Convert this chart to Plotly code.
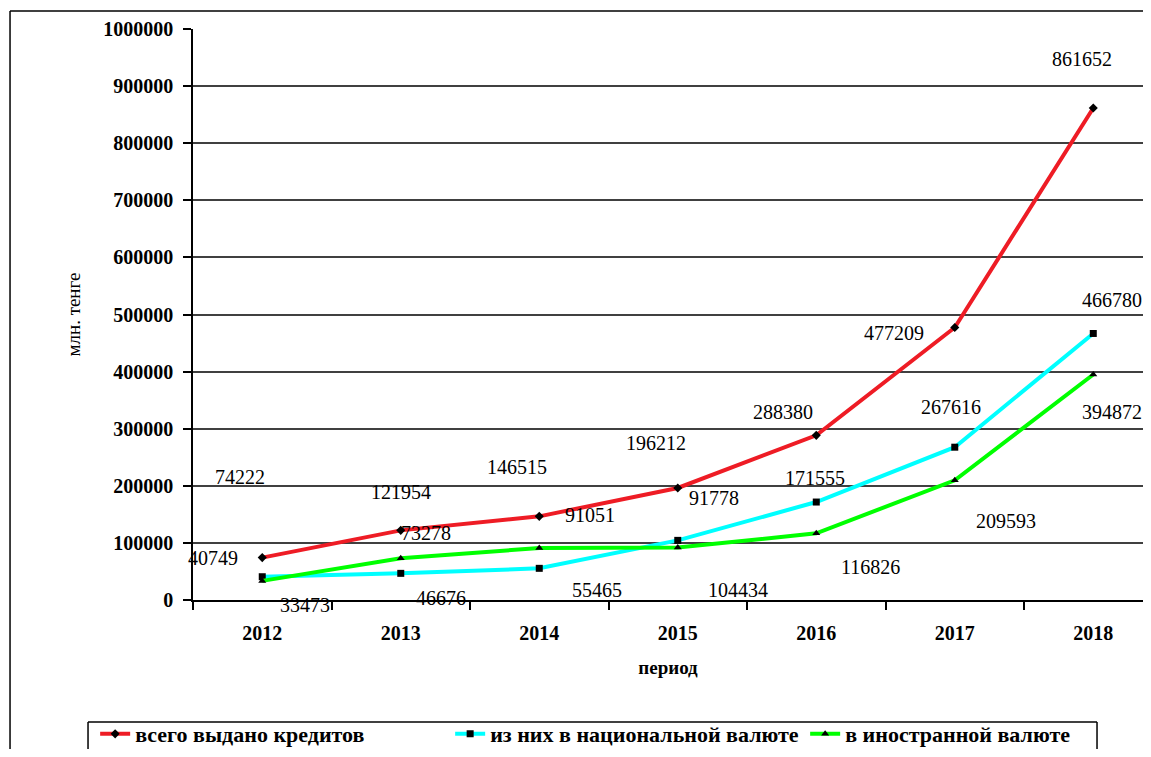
import plotly.graph_objects as go

years = ["2012", "2013", "2014", "2015", "2016", "2017", "2018"]
total = [74222, 121954, 146515, 196212, 288380, 477209, 861652]
national = [40749, 46676, 55465, 104434, 171555, 267616, 466780]
foreign = [33473, 73278, 91051, 91778, 116826, 209593, 394872]

names = ["всего выдано кредитов", "из них в национальной валюте", "в иностранной валюте"]
y_title = "млн. тенге"
x_title = "период"

# label offsets in pixels (style only)
off_total = [(-22, 81), (0, 38), (-22, 49), (-22, 45), (-33, 23), (-61, -5), (-11, 49)]
off_nat = [(-49, 19), (40, -25), (58, -22), (60, -50), (-1, 24), (-4, 40), (19, 33)]
off_for = [(43, -24), (25, 25), (51, 33), (36, 50), (54, -34), (51, -41), (19, -37)]

FONT = "Liberation Serif"

fig = go.Figure()
series = [
    (total, names[0], "#EE1C25", "diamond", off_total),
    (national, names[1], "#00FFFF", "square", off_nat),
    (foreign, names[2], "#00FF00", "triangle-up", off_for),
]
annotations = []
for vals, nm, col, sym, offs in series:
    fig.add_trace(go.Scatter(
        x=years, y=vals, name=nm, mode="lines+markers",
        line=dict(color=col, width=4),
        marker=dict(symbol=sym, size=7, color="black"),
        cliponaxis=False,
    ))
    for i, (yv, (dx, dy)) in enumerate(zip(vals, offs)):
        annotations.append(dict(
            x=i, y=yv, xref="x", yref="y", text=str(yv), showarrow=False,
            xshift=dx, yshift=dy, font=dict(family=FONT, size=20, color="black"),
        ))

frame = dict(color="black", width=1.5)
fig.update_layout(
    width=1135, height=741,
    margin=dict(l=185, r=0, t=21, b=149, autoexpand=False),
    paper_bgcolor="white", plot_bgcolor="white",
    font=dict(family=FONT, color="black"),
    showlegend=True,
    legend=dict(
        orientation="h", x=-0.103, xanchor="left", y=-0.198, yanchor="top",
        borderwidth=0, bgcolor="rgba(0,0,0,0)",
        entrywidth=310, entrywidthmode="pixels",
        font=dict(family=FONT, size=22, color="black", weight="bold"),
        traceorder="normal",
    ),
    annotations=annotations,
    shapes=[
        # outer chart frame (top and left edges)
        dict(type="line", xref="paper", yref="paper", x0=-0.1926, x1=1.2, y0=1.0315, y1=1.0315, line=frame),
        dict(type="line", xref="paper", yref="paper", x0=-0.1926, x1=-0.1926, y0=-0.6, y1=1.0315, line=frame),
        # legend box
        dict(type="line", xref="paper", yref="paper", x0=-0.1105, x1=0.9516, y0=-0.2137, y1=-0.2137, line=frame),
        dict(type="line", xref="paper", yref="paper", x0=-0.1105, x1=-0.1105, y0=-0.2137, y1=-0.6, line=frame),
        dict(type="line", xref="paper", yref="paper", x0=0.9516, x1=0.9516, y0=-0.2137, y1=-0.6, line=frame),
    ],
)
fig.update_xaxes(
    type="category", range=[-0.5, 6.359], tickson="boundaries",
    ticks="outside", ticklen=8, tickcolor="black", tickwidth=1.5,
    showline=True, linecolor="black", linewidth=1.5, showgrid=False,
    ticklabelstandoff=14,
    tickfont=dict(family=FONT, size=20, color="black", weight="bold"),
    title=dict(text=x_title, font=dict(family=FONT, size=19, color="black", weight="bold"), standoff=18),
)
fig.update_yaxes(
    range=[0, 1000000], dtick=100000, tickformat="d",
    ticks="outside", ticklen=8, tickcolor="black", tickwidth=1.5,
    showline=True, linecolor="black", linewidth=1.5,
    showgrid=True, gridcolor="#404040", gridwidth=1.5, zeroline=False,
    ticklabelstandoff=6,
    tickfont=dict(family=FONT, size=20, color="black", weight="bold"),
    title=dict(text=y_title, font=dict(family=FONT, size=19, color="black"), standoff=18),
)

fig.write_html("out.html")
